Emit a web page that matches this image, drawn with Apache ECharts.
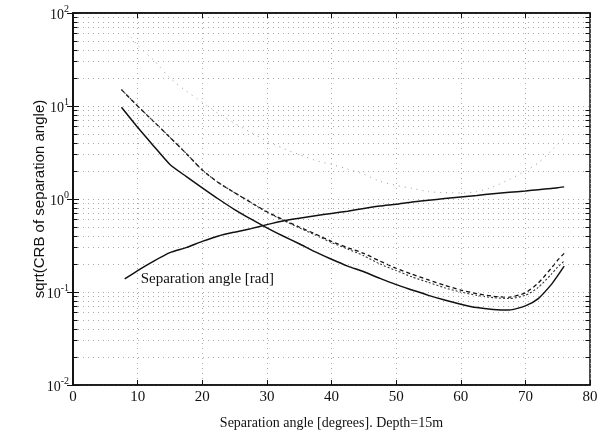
<!DOCTYPE html>
<html>
<head>
<meta charset="utf-8">
<script src="https://cdn.jsdelivr.net/npm/echarts@6/dist/echarts.min.js"></script>
<style>
  html, body { margin: 0; padding: 0; background: #fff; }
  #chart { width: 603px; height: 439px; }
</style>
</head>
<body>
<div id="chart"></div>
<script>
// separation angle [degrees]
const angles = [7.5, 10, 12.5, 15, 17.5, 20, 22.5, 25, 27.5, 30, 32.5, 35, 37.5, 40, 42.5,
  45, 47.5, 50, 52.5, 55, 57.5, 60, 62.5, 65, 67.5, 70, 72, 74, 75, 76];

// sqrt(CRB), solid curve
const crbSolid = [9.7, 5.9, 3.7, 2.35, 1.75, 1.32, 1.0, 0.77, 0.61, 0.49, 0.40, 0.33, 0.27, 0.225, 0.19,
  0.165, 0.14, 0.12, 0.105, 0.092, 0.082, 0.074, 0.068, 0.065, 0.064, 0.071, 0.085, 0.12, 0.15, 0.19];

// sqrt(CRB), dashed curve
const crbDashed = [15, 10, 6.8, 4.6, 3.1, 2.05, 1.5, 1.17, 0.92, 0.73, 0.6, 0.5, 0.42, 0.35, 0.3,
  0.26, 0.215, 0.18, 0.155, 0.135, 0.118, 0.105, 0.096, 0.09, 0.088, 0.098, 0.125, 0.18, 0.22, 0.26];

// sqrt(CRB), fine dashed curve
const crbDashed2 = [15, 10, 6.8, 4.6, 3.1, 2.05, 1.5, 1.17, 0.92, 0.72, 0.59, 0.49, 0.41, 0.34, 0.29,
  0.245, 0.2, 0.17, 0.145, 0.127, 0.111, 0.1, 0.092, 0.087, 0.085, 0.092, 0.112, 0.155, 0.185, 0.215];

// sqrt(CRB), faint dotted curve
const dottedAngles = [9, 10, 12.5, 15, 17.5, 20, 22.5, 25, 27.5, 30, 32.5, 35, 37.5, 40, 42.5,
  45, 47.5, 50, 52.5, 55, 57.5, 60, 62.5, 65, 67.5, 70, 72, 74, 75, 76];
const crbDotted = [55, 45, 31, 20, 14.5, 11, 8.3, 6.5, 5.2, 4.2, 3.5, 3.0, 2.6, 2.35, 2.1,
  1.85, 1.55, 1.4, 1.3, 1.2, 1.17, 1.16, 1.2, 1.35, 1.62, 2.0, 2.45, 3.3, 3.9, 4.5];

// separation angle in radians
const radAngles = [8, 10, 12.5, 15, 17.5, 20, 22.5, 25, 27.5, 30, 32.5, 35, 37.5, 40, 42.5,
  45, 47.5, 50, 52.5, 55, 57.5, 60, 62.5, 65, 67.5, 70, 72, 74, 75, 76];
const radValues = [0.138, 0.17, 0.215, 0.265, 0.3, 0.35, 0.4, 0.44, 0.48, 0.53, 0.58, 0.62, 0.66, 0.7, 0.74,
  0.79, 0.84, 0.88, 0.93, 0.97, 1.01, 1.05, 1.09, 1.14, 1.18, 1.22, 1.26, 1.3, 1.32, 1.35];

const xTicks = [0, 10, 20, 30, 40, 50, 60, 70, 80];
const decades = [0.01, 0.1, 1, 10];
const minorY = [];
decades.forEach(d => { for (let m = 2; m <= 9; m++) minorY.push(+(d * m).toPrecision(3)); });

const SERIF = '"Liberation Serif", "DejaVu Serif", serif';
const SANS = '"Liberation Sans", Arial, sans-serif';
const INK = '#111';
const GRID = { color: '#aaa', type: [1, 4], width: 1 };

const pairs = (xs, ys) => xs.map((x, i) => [x, ys[i]]);

const chart = echarts.init(document.getElementById('chart'));

chart.setOption({
  animation: false,
  grid: {
    left: 73, right: 13, top: 13, bottom: 54,
    show: true, borderColor: INK, borderWidth: 1.5, backgroundColor: 'transparent',
  },
  xAxis: [{
    type: 'value',
    min: 0, max: 80, interval: 10,
    name: 'Separation angle [degrees]. Depth=15m',
    nameLocation: 'middle',
    nameGap: 31,
    nameMoveOverlap: false,
    nameTextStyle: { fontFamily: SERIF, fontSize: 14, color: INK },
    axisLine: { show: true, lineStyle: { color: INK, width: 1.5 } },
    axisTick: { inside: true, length: 5, lineStyle: { color: INK } },
    axisLabel: {
      fontFamily: SERIF, fontSize: 15, color: INK, margin: 5,
      formatter: v => xTicks.includes(v) ? String(v) : '',
    },
    splitLine: { show: true, lineStyle: GRID },
  }, {
    type: 'value', position: 'top',
    min: 0, max: 80, interval: 10,
    axisLine: { show: true, lineStyle: { color: INK, width: 1.5 } },
    axisTick: { inside: true, length: 5, lineStyle: { color: INK } },
    axisLabel: { show: false },
    splitLine: { show: false },
  }],
  yAxis: [{
    type: 'log', logBase: 10,
    min: 0.01, max: 100,
    name: 'sqrt(CRB of separation angle)',
    nameLocation: 'middle',
    nameGap: 26,
    nameMoveOverlap: false,
    nameRotate: 90,
    nameTextStyle: { fontFamily: SANS, fontSize: 15, color: INK },
    axisLine: { show: true, lineStyle: { color: INK, width: 1.5 } },
    axisTick: { inside: true, length: 6, lineStyle: { color: INK } },
    axisLabel: {
      margin: 4,
      formatter: v => '{b|10}{e|' + Math.round(Math.log10(v)) + '}',
      rich: {
        b: { fontFamily: SERIF, fontSize: 14, color: INK, lineHeight: 18, verticalAlign: 'bottom' },
        e: { fontFamily: SERIF, fontSize: 10, color: INK, lineHeight: 18, verticalAlign: 'top' },
      },
    },
    splitLine: { show: true, lineStyle: GRID },
  }, {
    type: 'log', logBase: 10, position: 'right',
    min: 0.01, max: 100,
    axisLine: { show: true, lineStyle: { color: INK, width: 1.5 } },
    axisTick: { inside: true, length: 6, lineStyle: { color: INK } },
    axisLabel: { show: false },
    splitLine: { show: false },
  }],
  series: [{
    name: 'crb solid',
    type: 'line',
    data: pairs(angles, crbSolid),
    showSymbol: false,
    smooth: 0.2,
    lineStyle: { color: INK, width: 1.5 },
    z: 5,
    markLine: {
      silent: true, symbol: 'none', animation: false,
      label: { show: false },
      lineStyle: GRID,
      data: minorY.map(v => ({ yAxis: v })),
    },
  }, {
    name: 'crb dashed',
    type: 'line',
    data: pairs(angles, crbDashed),
    showSymbol: false,
    smooth: 0.2,
    lineStyle: { color: INK, width: 1.3, type: [4, 3] },
    z: 4,
    markLine: {
      silent: true, symbol: 'none', animation: false,
      label: { show: false },
      lineStyle: { color: INK, type: 'solid', width: 1 },
      data: minorY.map(v => [{ coord: [0, v] }, { coord: [0.7, v] }])
        .concat(minorY.map(v => [{ coord: [79.3, v] }, { coord: [80, v] }])),
    },
  }, {
    name: 'crb dashed 2',
    type: 'line',
    data: pairs(angles, crbDashed2),
    showSymbol: false,
    smooth: 0.2,
    lineStyle: { color: '#333', width: 1.1, type: [2, 2] },
    z: 4,
  }, {
    name: 'crb dotted',
    type: 'line',
    data: pairs(dottedAngles, crbDotted),
    showSymbol: false,
    smooth: 0.2,
    lineStyle: { color: '#999', width: 1, type: [1, 5] },
    z: 3,
  }, {
    name: 'rad',
    type: 'line',
    data: pairs(radAngles, radValues),
    showSymbol: false,
    smooth: 0.2,
    lineStyle: { color: INK, width: 1.5 },
    z: 5,
    markPoint: {
      symbol: 'circle', symbolSize: 0,
      label: {
        show: true, position: 'right', distance: 16,
        fontFamily: SERIF, fontSize: 15, color: INK,
        formatter: 'Separation angle [rad]',
      },
      data: [{ coord: [radAngles[0], radValues[0]] }],
    },
  }],
});
</script>
</body>
</html>
